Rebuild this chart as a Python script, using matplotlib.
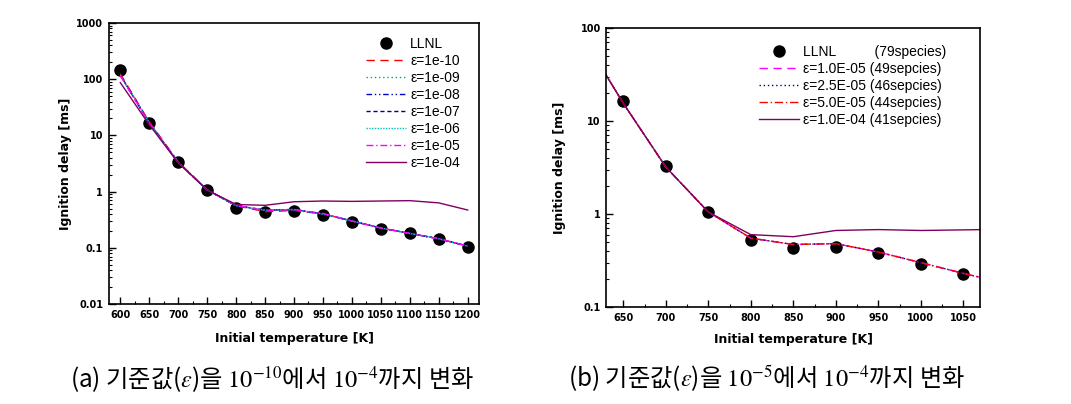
import numpy as np
import matplotlib
matplotlib.use("Agg")
import matplotlib.pyplot as plt
from matplotlib.ticker import LogLocator, MultipleLocator, FuncFormatter

plt.rcParams['font.family'] = ['DejaVu Sans']
plt.rcParams['mathtext.fontset'] = 'stix'

# ---- data (a) ----
T_a = [600, 650, 700, 750, 800, 850, 900, 950, 1000, 1050, 1100, 1150, 1200]
llnl_a = [146, 16.8, 3.3, 1.05, 0.52, 0.43, 0.445, 0.38, 0.29, 0.22, 0.18, 0.144, 0.105]
eps_a = ["1e-10", "1e-09", "1e-08", "1e-07", "1e-06", "1e-05", "1e-04"]
red_a = {
    "1e-10": [125, 17.5, 3.4, 1.08, 0.56, 0.44, 0.46, 0.40, 0.30, 0.225, 0.18, 0.145, 0.107],
    "1e-09": [120, 17.0, 3.35, 1.07, 0.56, 0.46, 0.47, 0.40, 0.30, 0.225, 0.18, 0.145, 0.107],
    "1e-08": [118, 16.8, 3.3, 1.07, 0.56, 0.47, 0.48, 0.40, 0.30, 0.225, 0.18, 0.145, 0.107],
    "1e-07": [118, 16.8, 3.3, 1.07, 0.56, 0.47, 0.48, 0.40, 0.30, 0.225, 0.18, 0.145, 0.107],
    "1e-06": [118, 16.8, 3.3, 1.07, 0.56, 0.47, 0.48, 0.40, 0.30, 0.225, 0.18, 0.145, 0.107],
    "1e-05": [115, 16.5, 3.3, 1.07, 0.57, 0.46, 0.48, 0.41, 0.30, 0.225, 0.18, 0.145, 0.107],
    "1e-04": [87, 15.5, 3.25, 1.07, 0.59, 0.57, 0.66, 0.68, 0.67, 0.68, 0.69, 0.63, 0.47],
}
style_a = {
    "1e-10": ("#ff0000", (0, (6, 4))),
    "1e-09": ("#00b050", (0, (1, 2))),
    "1e-08": ("#0000cc", (0, (4, 2, 1, 2, 1, 2))),
    "1e-07": ("#000099", (0, (3, 2))),
    "1e-06": ("#00c0c0", (0, (1, 1))),
    "1e-05": ("#ff00ff", (0, (5, 2, 1, 2))),
    "1e-04": ("#800060", "-"),
}

# ---- data (b) ----
T_b = [600, 650, 700, 750, 800, 850, 900, 950, 1000, 1050, 1100]
T_b_llnl = [650, 700, 750, 800, 850, 900, 950, 1000, 1050]
llnl_b = [16.5, 3.3, 1.05, 0.53, 0.43, 0.44, 0.38, 0.29, 0.225]
eps_b = ["1.0E-05", "2.5E-05", "5.0E-05", "1.0E-04"]
species_b = ["49sepcies", "46sepcies", "44sepcies", "41sepcies"]
red_b = {
    "1.0E-05": [87, 15.5, 3.2, 1.05, 0.55, 0.47, 0.48, 0.39, 0.30, 0.23, 0.18],
    "2.5E-05": [87, 15.5, 3.2, 1.05, 0.55, 0.47, 0.48, 0.39, 0.30, 0.23, 0.18],
    "5.0E-05": [87, 15.5, 3.2, 1.05, 0.55, 0.47, 0.48, 0.39, 0.30, 0.23, 0.18],
    "1.0E-04": [87, 15.5, 3.2, 1.05, 0.60, 0.57, 0.665, 0.68, 0.665, 0.675, 0.685],
}
style_b = {
    "1.0E-05": ("#ff00ff", (0, (6, 4))),
    "2.5E-05": ("#000080", (0, (1, 2))),
    "5.0E-05": ("#ff0000", (0, (6, 2, 1, 2))),
    "1.0E-04": ("#800060", "-"),
}

fig = plt.figure(figsize=(10.71, 4.04), dpi=100)
axA = fig.add_axes([108.7 / 1071, 1 - 304 / 404, (479.3 - 108.7) / 1071, (304 - 23) / 404])
axB = fig.add_axes([606.3 / 1071, 1 - 307 / 404, (980.3 - 606.3) / 1071, (307 - 28) / 404])


def fmt(v, pos):
    return ("%g" % v)


def style_axes(ax, ylab_x, xlab_y):
    ax.set_yscale("log")
    ax.tick_params(which="both", direction="in", top=False, right=False)
    ax.tick_params(which="major", length=5, width=1.0, labelsize=7, pad=4)
    ax.tick_params(which="minor", length=2.5, width=0.8)
    ax.yaxis.set_major_formatter(FuncFormatter(fmt))
    ax.yaxis.set_minor_locator(LogLocator(base=10, subs=np.arange(2, 10)))
    ax.yaxis.set_minor_formatter(plt.NullFormatter())
    ax.xaxis.set_minor_locator(MultipleLocator(25))
    ax.xaxis.set_major_locator(MultipleLocator(50))
    for lab in ax.get_xticklabels() + ax.get_yticklabels():
        lab.set_fontweight("bold")
    for s in ax.spines.values():
        s.set_linewidth(1.2)
    ax.set_xlabel("Initial temperature [K]", fontsize=9, fontweight="bold")
    ax.set_ylabel("Ignition delay [ms]", fontsize=9, fontweight="bold")
    ax.yaxis.set_label_coords(ylab_x, 0.5)
    ax.xaxis.set_label_coords(0.5, xlab_y)


leg_kw = dict(frameon=False, prop={"family": "Liberation Sans", "size": 10},
              handlelength=2.9, labelspacing=0.22, handletextpad=0.3, borderaxespad=0.3)

# panel (a)
axA.plot(T_a, llnl_a, "o", color="black", ms=8, label="LLNL", zorder=1)
for e in eps_a:
    c, ls = style_a[e]
    axA.plot(T_a, red_a[e], color=c, ls=ls, lw=1.0, label="ε=" + e)
axA.set_xlim(580, 1220)
axA.set_ylim(0.01, 1000)
style_axes(axA, -0.099, -0.10)
axA.legend(loc="upper right", bbox_to_anchor=(0.974, 0.985), **leg_kw)

# panel (b)
axB.plot(T_b_llnl, llnl_b, "o", color="black", ms=8, zorder=1,
         label="LLNL          (79species)")
for e, sp in zip(eps_b, species_b):
    c, ls = style_b[e]
    axB.plot(T_b, red_b[e], color=c, ls=ls, lw=1.0, label="ε=%s (%s)" % (e, sp))
axB.set_xlim(630, 1070)
axB.set_ylim(0.1, 100)
style_axes(axB, -0.108, -0.093)
axB.legend(loc="upper right", bbox_to_anchor=(0.935, 0.975), **leg_kw)

# captions
capfam = ["Noto Sans CJK KR", "DejaVu Sans"]
fig.text(70 / 1071, 1 - 379 / 404, r"(a) 기준값($\varepsilon$)을 $10^{-10}$에서 $10^{-4}$까지 변화",
         fontsize=17.5, family=capfam, va="center", ha="left")
fig.text(568 / 1071, 1 - 379 / 404, r"(b) 기준값($\varepsilon$)을 $10^{-5}$에서 $10^{-4}$까지 변화",
         fontsize=17.5, family=capfam, va="center", ha="left")

fig.savefig("out.png", dpi=100)
